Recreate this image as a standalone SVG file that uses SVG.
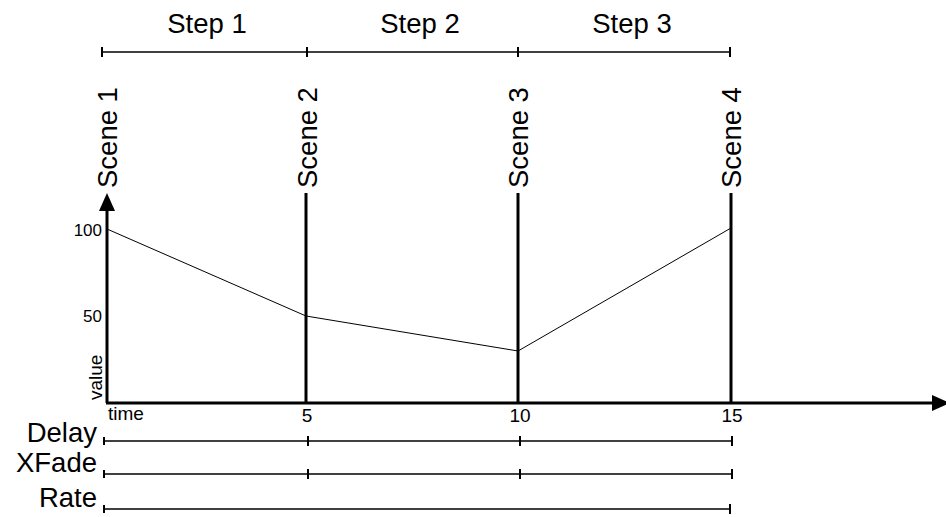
<svg xmlns="http://www.w3.org/2000/svg" width="946" height="517" viewBox="0 0 946 517">
<style>
text{font-family:"Liberation Sans",Arial,sans-serif;fill:#000}
.big{font-size:27.5px}
.sm{font-size:17px}
.md{font-size:19px}
.axis{stroke:#000;stroke-width:3;fill:none}
.bar{stroke:#000;stroke-width:1.4;fill:none}
.tick{stroke:#000;stroke-width:2;fill:none}
.curve{stroke:#000;stroke-width:1;fill:none}
</style>
<defs>
<marker id="arr" viewBox="0 0 18 16" refX="0" refY="8" markerWidth="18" markerHeight="16" markerUnits="userSpaceOnUse" orient="auto">
<path d="M0,0 L18,8 L0,16 Z" fill="#000"/>
</marker>
</defs>
<g id="steps">
<line class="bar" x1="102" y1="52" x2="730" y2="52"/>
<line class="tick" x1="102" y1="47" x2="102" y2="57"/>
<line class="tick" x1="307" y1="47" x2="307" y2="57"/>
<line class="tick" x1="518" y1="47" x2="518" y2="57"/>
<line class="tick" x1="730" y1="47" x2="730" y2="57"/>
<text class="big" x="207" y="33" text-anchor="middle">Step 1</text>
<text class="big" x="420" y="33" text-anchor="middle">Step 2</text>
<text class="big" x="632" y="33" text-anchor="middle">Step 3</text>
</g>
<g id="scene1"><text class="big" transform="translate(117,188) rotate(-90)">Scene 1</text></g>
<g id="scene2"><text class="big" transform="translate(317,188) rotate(-90)">Scene 2</text></g>
<g id="scene3"><text class="big" transform="translate(528,188) rotate(-90)">Scene 3</text></g>
<g id="scene4"><text class="big" transform="translate(741,188) rotate(-90)">Scene 4</text></g>
<g id="connectors">
<line class="axis" x1="107" y1="403" x2="107" y2="211" marker-end="url(#arr)"/>
<line class="axis" x1="106" y1="403" x2="932" y2="403" marker-end="url(#arr)"/>
<line class="axis" x1="306" y1="193" x2="306" y2="403"/>
<line class="axis" x1="518" y1="193" x2="518" y2="403"/>
<line class="axis" x1="731" y1="193" x2="731" y2="403"/>
<polyline class="curve" points="107,229 306,316 518,351 731,228"/>
</g>
<g id="axis-labels">
<text class="sm" x="102" y="236" text-anchor="end">100</text>
<text class="sm" x="102" y="322" text-anchor="end">50</text>
<text class="md" transform="translate(102,400) rotate(-90)">value</text>
<text class="md" x="108" y="420">time</text>
<text class="md" x="307" y="422" text-anchor="middle">5</text>
<text class="md" x="520" y="422" text-anchor="middle">10</text>
<text class="md" x="732" y="422" text-anchor="middle">15</text>
</g>
<g id="delay">
<text class="big" x="97" y="442" text-anchor="end">Delay</text>
<line class="bar" x1="104" y1="441" x2="732" y2="441"/>
<line class="tick" x1="104" y1="437" x2="104" y2="445"/>
<line class="tick" x1="308" y1="436" x2="308" y2="446"/>
<line class="tick" x1="520" y1="436" x2="520" y2="446"/>
<line class="tick" x1="732" y1="436" x2="732" y2="446"/>
</g>
<g id="xfade">
<text class="big" x="97" y="472" text-anchor="end">XFade</text>
<line class="bar" x1="104" y1="474" x2="732" y2="474"/>
<line class="tick" x1="104" y1="470" x2="104" y2="478"/>
<line class="tick" x1="308" y1="469" x2="308" y2="479"/>
<line class="tick" x1="520" y1="469" x2="520" y2="479"/>
<line class="tick" x1="732" y1="469" x2="732" y2="479"/>
</g>
<g id="rate">
<text class="big" x="97" y="507" text-anchor="end">Rate</text>
<line class="bar" x1="104" y1="509" x2="730" y2="509"/>
<line class="tick" x1="104" y1="505" x2="104" y2="513"/>
<line class="tick" x1="730" y1="504" x2="730" y2="514"/>
</g>
</svg>
